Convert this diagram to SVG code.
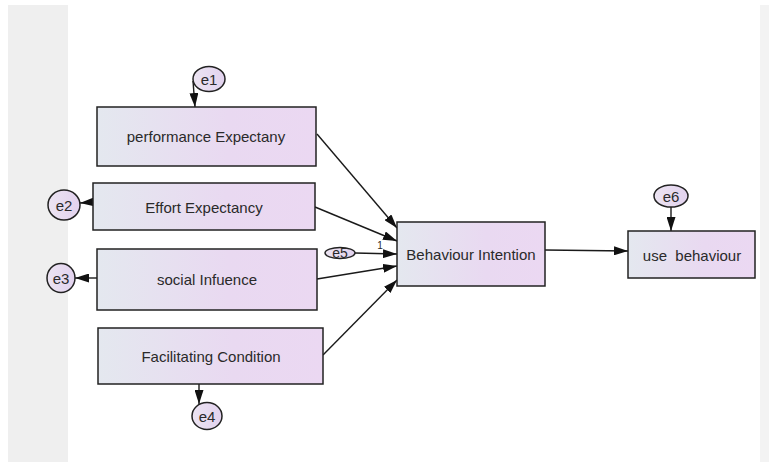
<svg xmlns="http://www.w3.org/2000/svg" width="769" height="462" viewBox="0 0 769 462">
<style>
.box{stroke:#222;stroke-width:1.5;fill:url(#g)}
.ell{stroke:#222;stroke-width:1.5;fill:url(#ge)}
.lbl{font-family:"Liberation Sans",Arial,sans-serif;font-size:15px;fill:#2a2a2a;text-anchor:middle;dominant-baseline:central;white-space:pre}
.con line{stroke:#1a1a1a;stroke-width:1.4}
</style>
<defs>
<linearGradient id="g" x1="0" y1="0" x2="1" y2="0">
<stop offset="0" stop-color="#e4e8ef"/>
<stop offset="0.6" stop-color="#e9d9f1"/>
<stop offset="1" stop-color="#ebd8f2"/>
</linearGradient>
<linearGradient id="ge" x1="0" y1="0" x2="1" y2="0">
<stop offset="0" stop-color="#ece4f2"/>
<stop offset="1" stop-color="#e2d2ee"/>
</linearGradient>
<marker id="ah" viewBox="0 0 14 9" refX="14" refY="4.5" markerWidth="14" markerHeight="9" markerUnits="userSpaceOnUse" orient="auto">
<path d="M0,0 L14,4.5 L0,9 Z" fill="#111"/>
</marker>
</defs>
<rect x="0" y="0" width="769" height="462" fill="#ffffff"/>
<rect x="8" y="5" width="60" height="457" fill="#efefef"/>
<rect x="760" y="5" width="9" height="457" fill="#f3f3f3"/>

<g id="connectors" class="con">
<line x1="193" y1="81" x2="195" y2="107" marker-end="url(#ah)"/>
<line x1="93" y1="202" x2="80" y2="203" marker-end="url(#ah)"/>
<line x1="97" y1="278" x2="75" y2="278" marker-end="url(#ah)"/>
<line x1="199" y1="384" x2="199" y2="404" marker-end="url(#ah)"/>
<line x1="317" y1="134" x2="397" y2="228" marker-end="url(#ah)"/>
<line x1="315" y1="207" x2="397" y2="241" marker-end="url(#ah)"/>
<line x1="355" y1="253" x2="397" y2="254" marker-end="url(#ah)"/>
<line x1="317" y1="279" x2="397" y2="266" marker-end="url(#ah)"/>
<line x1="323" y1="355" x2="397" y2="280" marker-end="url(#ah)"/>
<line x1="545" y1="250" x2="628" y2="251" marker-end="url(#ah)"/>
<line x1="671" y1="207" x2="671" y2="231" marker-end="url(#ah)"/>
</g>

<g id="pe">
<rect class="box" x="97" y="107" width="219" height="59"/>
<text class="lbl" x="206" y="136">performance Expectany</text>
</g>
<g id="ee">
<rect class="box" x="93" y="183" width="222" height="47"/>
<text class="lbl" x="204" y="207">Effort Expectancy</text>
</g>
<g id="si">
<rect class="box" x="97" y="249" width="220" height="61"/>
<text class="lbl" x="207" y="279">social Infuence</text>
</g>
<g id="fc">
<rect class="box" x="98" y="328" width="225" height="56"/>
<text class="lbl" x="211" y="356">Facilitating Condition</text>
</g>
<g id="bi">
<rect class="box" x="397" y="222" width="148" height="64"/>
<text class="lbl" x="471" y="254">Behaviour Intention</text>
</g>
<g id="ub">
<rect class="box" x="628" y="231" width="127" height="47"/>
<text class="lbl" x="692" y="255" xml:space="preserve">use  behaviour</text>
</g>

<g id="e1">
<ellipse class="ell" cx="209" cy="79" rx="16" ry="12.5"/>
<text class="lbl" x="209" y="79">e1</text>
</g>
<g id="e2">
<ellipse class="ell" cx="64" cy="205" rx="16" ry="15"/>
<text class="lbl" x="64" y="205">e2</text>
</g>
<g id="e3">
<ellipse class="ell" cx="61" cy="278" rx="14" ry="14.5"/>
<text class="lbl" x="61" y="278">e3</text>
</g>
<g id="e4">
<ellipse class="ell" cx="207" cy="416" rx="15" ry="13.5"/>
<text class="lbl" x="207" y="416">e4</text>
</g>
<g id="e5">
<ellipse class="ell" cx="340" cy="253" rx="15" ry="5.5"/>
<text class="lbl" x="340" y="253" style="font-size:14px">e5</text>
<text class="lbl" x="380" y="245" style="font-size:10px">1</text>
</g>
<g id="e6">
<ellipse class="ell" cx="671" cy="196" rx="17" ry="11"/>
<text class="lbl" x="671" y="196">e6</text>
</g>
</svg>
